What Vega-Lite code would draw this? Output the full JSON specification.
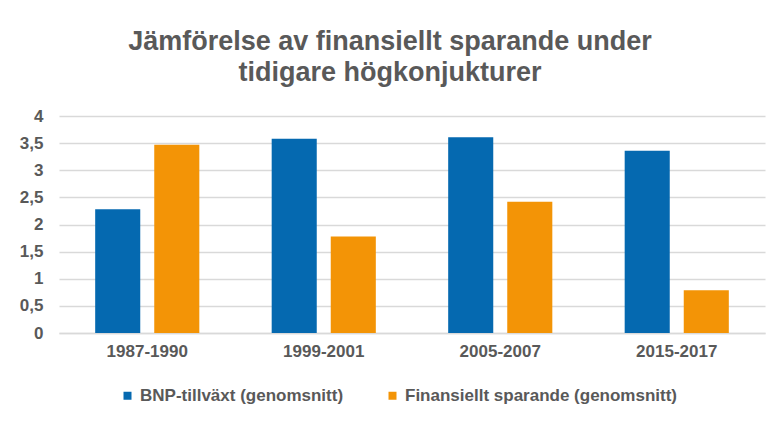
{
  "$schema": "https://vega.github.io/schema/vega-lite/v6.json",
  "autosize": {"type": "none"},
  "width": 706,
  "height": 217,
  "padding": {"left": 59, "top": 116, "right": 16, "bottom": 92},
  "background": "white",
  "title": {
    "text": ["Jämförelse av finansiellt sparande under", "tidigare högkonjukturer"],
    "font": "Liberation Sans",
    "fontSize": 27,
    "fontWeight": "bold",
    "color": "#595959",
    "lineHeight": 31,
    "anchor": "middle",
    "dx": -22,
    "offset": 20
  },
  "data": {
    "values": [
      {"period": "1987-1990", "serie": "BNP-tillväxt (genomsnitt)", "value": 2.28},
      {"period": "1987-1990", "serie": "Finansiellt sparande (genomsnitt)", "value": 3.47},
      {"period": "1999-2001", "serie": "BNP-tillväxt (genomsnitt)", "value": 3.58},
      {"period": "1999-2001", "serie": "Finansiellt sparande (genomsnitt)", "value": 1.78},
      {"period": "2005-2007", "serie": "BNP-tillväxt (genomsnitt)", "value": 3.61},
      {"period": "2005-2007", "serie": "Finansiellt sparande (genomsnitt)", "value": 2.42},
      {"period": "2015-2017", "serie": "BNP-tillväxt (genomsnitt)", "value": 3.36},
      {"period": "2015-2017", "serie": "Finansiellt sparande (genomsnitt)", "value": 0.79}
    ]
  },
  "mark": {"type": "bar"},
  "encoding": {
    "x": {
      "field": "period",
      "type": "nominal",
      "sort": null,
      "title": null,
      "scale": {"paddingInner": 0.41, "paddingOuter": 0.205},
      "axis": {
        "labelAngle": 0,
        "labelFont": "Liberation Sans",
        "labelFontSize": 17,
        "labelFontWeight": "bold",
        "labelColor": "#595959",
        "labelPadding": 10,
        "ticks": false,
        "domain": true,
        "domainColor": "#d9d9d9",
        "domainWidth": 1.5,
        "grid": false
      }
    },
    "xOffset": {
      "field": "serie",
      "type": "nominal",
      "sort": null,
      "scale": {"paddingInner": 0.237, "paddingOuter": 0}
    },
    "y": {
      "field": "value",
      "type": "quantitative",
      "title": null,
      "scale": {"domain": [0, 4], "nice": false},
      "axis": {
        "values": [0, 0.5, 1, 1.5, 2, 2.5, 3, 3.5, 4],
        "labelExpr": "replace(format(datum.value, '~g'), '.', ',')",
        "labelFont": "Liberation Sans",
        "labelFontSize": 17,
        "labelFontWeight": "bold",
        "labelColor": "#595959",
        "labelPadding": 16,
        "ticks": false,
        "domain": false,
        "grid": true,
        "gridColor": "#d9d9d9",
        "gridWidth": 1.5
      }
    },
    "color": {
      "field": "serie",
      "type": "nominal",
      "sort": null,
      "title": null,
      "scale": {
        "domain": ["BNP-tillväxt (genomsnitt)", "Finansiellt sparande (genomsnitt)"],
        "range": ["#0569b0", "#f39406"]
      },
      "legend": {
        "orient": "none",
        "direction": "horizontal",
        "legendX": 60,
        "legendY": 271,
        "symbolType": "square",
        "symbolSize": 64,
        "symbolStrokeWidth": 0,
        "labelFont": "Liberation Sans",
        "labelFontSize": 17,
        "labelFontWeight": "bold",
        "labelColor": "#595959",
        "labelOffset": 4,
        "columnPadding": 40,
        "labelLimit": 400
      }
    }
  },
  "config": {
    "view": {"stroke": null}
  }
}
